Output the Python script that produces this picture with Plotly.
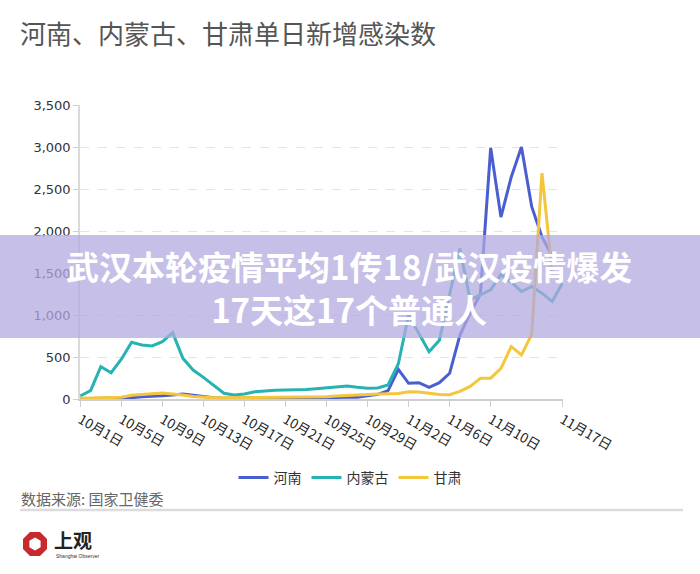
import plotly.graph_objects as go
import math

dates = [
    "10月1日", "10月2日", "10月3日", "10月4日", "10月5日", "10月6日", "10月7日", "10月8日",
    "10月9日", "10月10日", "10月11日", "10月12日", "10月13日", "10月14日", "10月15日", "10月16日",
    "10月17日", "10月18日", "10月19日", "10月20日", "10月21日", "10月22日", "10月23日", "10月24日",
    "10月25日", "10月26日", "10月27日", "10月28日", "10月29日", "10月30日", "10月31日", "11月1日",
    "11月2日", "11月3日", "11月4日", "11月5日", "11月6日", "11月7日", "11月8日", "11月9日",
    "11月10日", "11月11日", "11月12日", "11月13日", "11月14日", "11月15日", "11月16日", "11月17日",
]

henan = [3, 5, 6, 8, 10, 15, 28, 30, 40, 48, 60, 45, 28, 15, 10, 8,
         10, 12, 12, 15, 15, 14, 12, 12, 15, 18, 20, 22, 35, 55, 100, 353,
         187, 194, 139, 194, 306, 760, 1020, 1250, 2990, 2165, 2640, 3000, 2290, 1930, 1700, None]

neimenggu = [36, 100, 385, 313, 473, 675, 643, 631, 682, 790, 484, 345, 258, 167, 68, 48,
             60, 87, 99, 104, 107, 107, 112, 122, 135, 145, 155, 139, 127, 131, 167, 420,
             1000, 780, 563, 700, 1250, 1790, 1180, 1240, 1300, 1480, 1390, 1280, 1340, 1260, 1160, 1380]

gansu = [10, 12, 12, 15, 20, 45, 58, 62, 70, 62, 48, 30, 20, 15, 14, 15,
         15, 18, 20, 20, 20, 22, 22, 25, 28, 35, 42, 50, 58, 60, 62, 65,
         85, 82, 68, 55, 52, 90, 150, 246, 248, 365, 623, 524, 770, 2690, 1500, None]

tick_labels = ["10月1日", "10月5日", "10月9日", "10月13日", "10月17日", "10月21日",
               "10月25日", "10月29日", "11月2日", "11月6日", "11月10日", "11月17日"]

series_names = ["河南", "内蒙古", "甘肃"]
series_colors = ["#4a5fcf", "#27b3b3", "#f3c63c"]

title_text = "河南、内蒙古、甘肃单日新增感染数"
source_text = "数据来源: 国家卫健委"
banner_lines = ["武汉本轮疫情平均1传18/武汉疫情爆发", "17天这17个普通人"]

CJK = "Noto Sans CJK SC"

# plot area geometry (pixels)
W, H = 700, 574
L, R, T, B = 80, 137, 105, 175
PW, PH = W - L - R, H - T - B


def px(x):
    return (x - L) / PW


def py(y):
    return (H - B - y) / PH


fig = go.Figure()
for name, vals, col in zip(series_names, [henan, neimenggu, gansu], series_colors):
    fig.add_trace(go.Scatter(
        x=dates, y=vals, name=name, mode="lines",
        line=dict(color=col, width=3),
        connectgaps=False,
    ))

fig.update_layout(
    width=W, height=H,
    margin=dict(l=L, r=R, t=T, b=B),
    paper_bgcolor="white", plot_bgcolor="white",
    font=dict(family=CJK, color="#333"),
    showlegend=True,
    legend=dict(
        orientation="h", x=px(350), xanchor="center", y=py(478), yanchor="middle",
        font=dict(size=14, color="#333", family=CJK), itemwidth=30,
        bgcolor="rgba(0,0,0,0)",
    ),
    xaxis=dict(
        type="category", range=[-0.03, 47.05],
        tickmode="array", tickvals=tick_labels, ticktext=tick_labels,
        tickangle=30, tickfont=dict(size=13.5, color="#222", family=CJK),
        showline=True, linecolor="#cfcfcf", linewidth=2,
        ticks="outside", ticklen=6, tickcolor="#cfcfcf",
        showgrid=False, zeroline=False,
    ),
    yaxis=dict(
        range=[0, 3500], dtick=500, tickformat=",",
        tickfont=dict(size=13, color="#333", family="DejaVu Sans"),
        showgrid=True, gridcolor="#e4e4e4", griddash="dash", gridwidth=1,
        zeroline=False, showline=True, linecolor="#dadada", linewidth=1.5,
        ticks="outside", ticklen=5, tickcolor="#cfcfcf",
    ),
)

shapes = []
annotations = []

# title
annotations.append(dict(
    text=title_text, xref="paper", yref="paper", x=px(18), y=py(33),
    xanchor="left", yanchor="middle", showarrow=False,
    font=dict(size=26, color="#555", family=CJK),
))
# source
annotations.append(dict(
    text=source_text, xref="paper", yref="paper", x=px(19), y=py(498),
    xanchor="left", yanchor="middle", showarrow=False,
    font=dict(size=15, color="#666", family=CJK),
))
# separator line
shapes.append(dict(
    type="line", xref="paper", yref="paper", x0=px(20), x1=px(683), y0=py(510), y1=py(510),
    line=dict(color="#dcdcdc", width=2.5),
))

# logo: red octagon with white inner hexagon
cx, cy = 35, 544
outer = [(cx + 13 * math.cos(math.radians(22.5 + 45 * k)), cy + 13 * math.sin(math.radians(22.5 + 45 * k))) for k in range(8)]
inner = [(cx + 6.5 * math.cos(math.radians(30 + 60 * k)), cy + 6.5 * math.sin(math.radians(30 + 60 * k))) for k in range(6)]


def path_of(pts):
    return "M " + " L ".join(f"{px(a):.5f},{py(b):.5f}" for a, b in pts) + " Z"


shapes.append(dict(type="path", xref="paper", yref="paper", path=path_of(outer),
                   fillcolor="#c62a2f", line=dict(width=0)))
shapes.append(dict(type="path", xref="paper", yref="paper", path=path_of(inner),
                   fillcolor="white", line=dict(width=0)))
annotations.append(dict(
    text="<b>上观</b>", xref="paper", yref="paper", x=px(52), y=py(539),
    xanchor="left", yanchor="middle", showarrow=False,
    font=dict(size=19, color="#222", family=CJK),
))
annotations.append(dict(
    text="Shanghai Observer", xref="paper", yref="paper", x=px(54), y=py(556),
    xanchor="left", yanchor="middle", showarrow=False,
    font=dict(size=5, color="#333", family="Liberation Sans"),
))

# banner overlay
shapes.append(dict(
    type="rect", xref="paper", yref="paper", x0=px(0), x1=px(700), y0=py(338), y1=py(235),
    fillcolor="rgba(178,168,222,0.74)", line=dict(width=0), layer="above",
))
annotations.append(dict(
    text="<b>" + banner_lines[0] + "</b><br><b>" + banner_lines[1] + "</b>",
    xref="paper", yref="paper", x=px(349), y=py(287.5),
    xanchor="center", yanchor="middle", showarrow=False, align="center",
    font=dict(size=33, color="white", family=CJK),
))

fig.update_layout(shapes=shapes, annotations=annotations)

fig.write_html("out.html")
